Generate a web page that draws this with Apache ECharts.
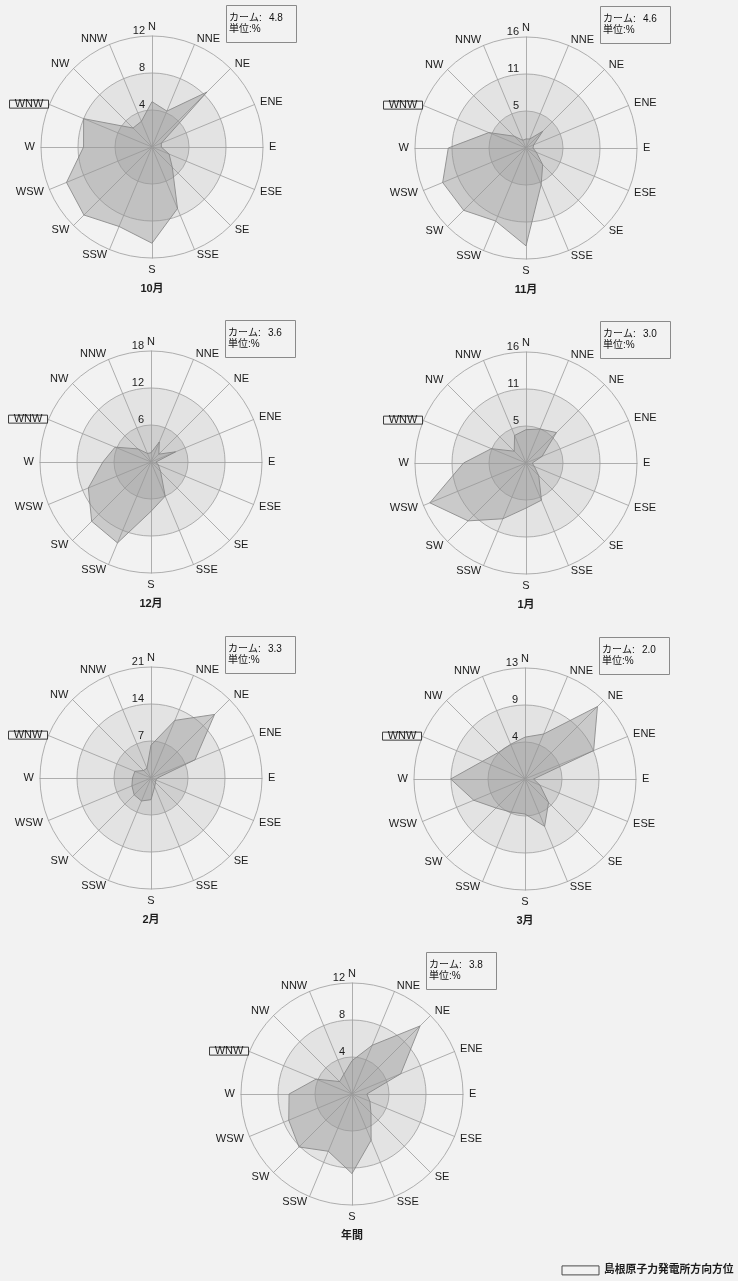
<!DOCTYPE html>
<html>
<head>
<meta charset="utf-8">
<script src="https://cdn.jsdelivr.net/npm/echarts@6/dist/echarts.min.js"></script>
<style>
  html, body { margin: 0; padding: 0; background: #f2f2f2; }
  #chart { width: 738px; height: 1281px; }
</style>
</head>
<body>
<div id="chart"></div>
<script>
// 16-point compass, clockwise from north
const directions = ['N', 'NNE', 'NE', 'ENE', 'E', 'ESE', 'SE', 'SSE', 'S', 'SSW', 'SW', 'WSW', 'W', 'WNW', 'NW', 'NNW'];
const periods = ['10月', '11月', '12月', '1月', '2月', '3月', '年間'];
const scaleMax = [12, 16, 18, 16, 21, 13, 12];
const calm = [4.8, 4.6, 3.6, 3.0, 3.3, 2.0, 3.8];
const markedDirection = 'WNW';
const legendText = '島根原子力発電所方向方位';

// frequency of each wind direction (%), compass order
const freqOct  = [4.9, 4.2, 8.4, 1.1, 1.0, 2.0, 3.1, 7.2, 10.4, 9.3, 10.4, 10.0, 7.4, 8.0, 2.9, 3.0];
const freqNov  = [1.3, 1.4, 3.4, 1.2, 1.0, 1.6, 3.4, 5.7, 14.1, 11.4, 12.7, 13.0, 11.2, 5.8, 2.4, 1.2];
const freqDec  = [1.5, 3.5, 1.8, 4.3, 0.8, 1.3, 2.2, 6.0, 8.0, 14.2, 13.6, 11.0, 7.8, 6.3, 3.0, 1.5];
const freqJan  = [4.8, 5.3, 6.2, 2.5, 0.9, 1.3, 2.6, 5.8, 6.5, 8.7, 11.8, 15.0, 9.0, 5.4, 2.4, 4.3];
const freqFeb  = [6.2, 11.8, 17.0, 9.0, 1.2, 1.0, 1.2, 1.8, 4.1, 4.7, 4.5, 3.9, 3.5, 3.3, 2.0, 2.0];
const freqMar  = [4.9, 5.7, 12.0, 8.7, 1.0, 1.9, 3.9, 6.0, 4.1, 4.2, 4.8, 6.5, 8.7, 5.4, 4.4, 4.4];
const freqYear = [3.6, 5.7, 10.4, 5.7, 1.6, 2.1, 2.9, 5.4, 8.6, 6.7, 8.1, 7.4, 6.8, 4.2, 1.9, 2.3];
const frequencies = [freqOct, freqNov, freqDec, freqJan, freqFeb, freqMar, freqYear];

// layout of the seven roses
const centers = [[152, 147], [526, 148], [151, 462], [526, 463], [151, 778], [525, 779], [352, 1094]];
const R = 111;
const FONT = '"Liberation Sans", Arial, "Noto Sans CJK JP", sans-serif';
const TEXT = '#1c1c1c';

// radar axes run counter-clockwise, so list the compass backwards from N
const order = directions.map((d, i) => (16 - i) % 16);

const radars = [];
const series = [];
const titles = [];

frequencies.forEach((freq, k) => {
  const [cx, cy] = centers[k];
  radars.push({
    center: [cx, cy],
    radius: R,
    startAngle: 90,
    shape: 'circle',
    splitNumber: 3,
    nameGap: 6,
    nameMoveOverlap: false,
    axisName: {
      color: TEXT,
      fontSize: 11,
      fontFamily: FONT,
      formatter: (name) => name === markedDirection ? '{box|' + name + '}' : name,
      rich: {
        box: {
          color: TEXT, fontSize: 11, fontFamily: FONT,
          borderColor: '#3a3a3a', borderWidth: 1,
          width: 35, height: 8, lineHeight: 9, align: 'center', padding: [0, 2, 0, 2]
        }
      }
    },
    axisLine: { lineStyle: { color: '#9c9c9c', width: 0.8 } },
    splitLine: { lineStyle: { color: '#9c9c9c', width: 0.8 } },
    splitArea: { areaStyle: { color: ['#cfcfcf', '#e3e3e3', 'rgba(255,255,255,0)'] } },
    axisTick: { show: false },
    axisLabel: {
      show: false,
      showMinLabel: false,
      formatter: (v) => String(Math.round(v)),
      color: TEXT, fontSize: 11, fontFamily: FONT,
      margin: 7, align: 'right', verticalAlign: 'bottom'
    },
    indicator: order.map((idx, j) => {
      const name = directions[idx];
      const ind = { name: name, min: 0, max: scaleMax[k], nameMoveOverlap: false };
      if (j === 0) { ind.axisLabel = { show: true }; ind.nameGap = 4; }
      if (name === markedDirection) ind.nameGap = 1;
      return ind;
    })
  });

  series.push({
    type: 'radar',
    radarIndex: k,
    symbol: 'none',
    silent: true,
    lineStyle: { color: '#7c7c7c', width: 0.8 },
    areaStyle: { color: 'rgba(150,150,150,0.62)' },
    data: [{ value: order.map((idx) => freq[idx]), name: periods[k] }]
  });

  // period caption under the rose
  titles.push({
    text: periods[k],
    left: cx,
    top: cy + R + 25,
    textAlign: 'center',
    padding: 0,
    textStyle: { color: TEXT, fontSize: 11, fontWeight: 'bold', fontFamily: FONT }
  });

  // calm / unit box
  titles.push({
    text: '{k|カーム:}{v|' + calm[k].toFixed(1) + '}\n{k|単位:%}',
    left: cx + 74,
    top: cy - 142,
    padding: [8, 14, 8, 3],
    borderColor: '#8a8a8a',
    borderWidth: 1,
    textStyle: {
      fontWeight: 'normal',
      rich: {
        k: { color: '#111', fontSize: 10, fontWeight: 'normal', fontFamily: FONT, width: 40, lineHeight: 11 },
        v: { color: '#111', fontSize: 10, fontWeight: 'normal', fontFamily: FONT, lineHeight: 11 }
      }
    }
  });
});

// key for the boxed direction label
titles.push({
  text: '{b|}{t|' + legendText + '}',
  left: 562,
  top: 1265,
  padding: 0,
  textStyle: {
    rich: {
      b: { width: 37, height: 9, borderColor: '#4a4a4a', borderWidth: 1 },
      t: { color: TEXT, fontSize: 10.8, fontWeight: 'bold', fontFamily: FONT, padding: [0, 0, 0, 5] }
    }
  }
});

const chart = echarts.init(document.getElementById('chart'), null, { renderer: 'canvas' });
chart.setOption({
  backgroundColor: '#f2f2f2',
  animation: false,
  title: titles,
  radar: radars,
  series: series
});
</script>
</body>
</html>
